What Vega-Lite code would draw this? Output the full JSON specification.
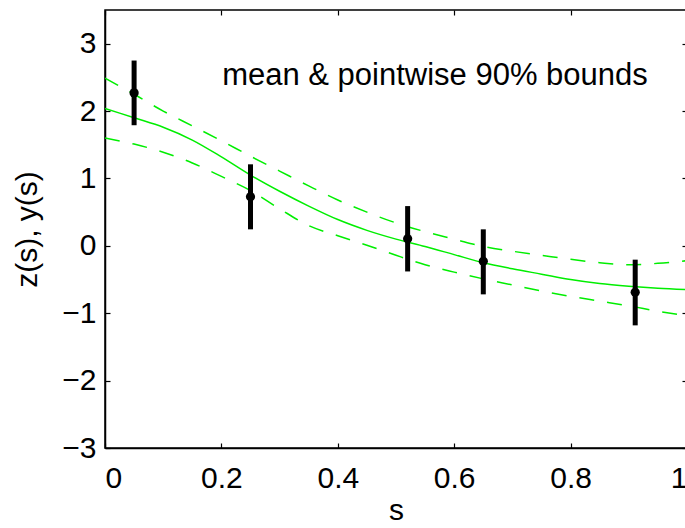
{
  "$schema": "https://vega.github.io/schema/vega-lite/v6.json",
  "width": 582,
  "height": 438,
  "autosize": {"type": "none"},
  "padding": {"left": 105, "top": 10, "right": -2, "bottom": 80},
  "background": "white",
  "config": {
    "font": "Liberation Sans",
    "view": {"stroke": "black", "strokeWidth": 1.5},
    "axis": {
      "domainColor": "black", "domainWidth": 1.5, "tickColor": "black", "tickWidth": 1.2,
      "tickSize": -5, "grid": false, "labelFont": "Liberation Sans", "labelFontSize": 30,
      "labelColor": "black", "titleFont": "Liberation Sans", "titleFontSize": 30,
      "titleFontWeight": "normal", "titleColor": "black"
    }
  },
  "datasets": {
    "curve": [
      {"s": 0.00, "mean": 2.04, "hi": 2.49, "lo": 1.60},
      {"s": 0.05, "mean": 1.90, "hi": 2.25, "lo": 1.51},
      {"s": 0.10, "mean": 1.76, "hi": 2.00, "lo": 1.39},
      {"s": 0.15, "mean": 1.57, "hi": 1.78, "lo": 1.23},
      {"s": 0.20, "mean": 1.32, "hi": 1.56, "lo": 1.03},
      {"s": 0.25, "mean": 1.05, "hi": 1.33, "lo": 0.82},
      {"s": 0.30, "mean": 0.81, "hi": 1.11, "lo": 0.55},
      {"s": 0.35, "mean": 0.59, "hi": 0.89, "lo": 0.30},
      {"s": 0.40, "mean": 0.39, "hi": 0.68, "lo": 0.15},
      {"s": 0.45, "mean": 0.23, "hi": 0.50, "lo": 0.01},
      {"s": 0.50, "mean": 0.10, "hi": 0.34, "lo": -0.14},
      {"s": 0.55, "mean": -0.01, "hi": 0.21, "lo": -0.28},
      {"s": 0.60, "mean": -0.13, "hi": 0.10, "lo": -0.39},
      {"s": 0.65, "mean": -0.25, "hi": -0.01, "lo": -0.49},
      {"s": 0.70, "mean": -0.34, "hi": -0.08, "lo": -0.58},
      {"s": 0.75, "mean": -0.42, "hi": -0.14, "lo": -0.67},
      {"s": 0.80, "mean": -0.50, "hi": -0.20, "lo": -0.75},
      {"s": 0.85, "mean": -0.56, "hi": -0.25, "lo": -0.82},
      {"s": 0.90, "mean": -0.60, "hi": -0.28, "lo": -0.89},
      {"s": 0.95, "mean": -0.63, "hi": -0.26, "lo": -0.97},
      {"s": 1.00, "mean": -0.65, "hi": -0.22, "lo": -1.04}
    ],
    "obs": [
      {"s": 0.05, "y": 2.27, "lo": 1.79, "hi": 2.75},
      {"s": 0.25, "y": 0.73, "lo": 0.245, "hi": 1.21},
      {"s": 0.52, "y": 0.107, "lo": -0.38, "hi": 0.59},
      {"s": 0.65, "y": -0.23, "lo": -0.72, "hi": 0.245},
      {"s": 0.911, "y": -0.69, "lo": -1.18, "hi": -0.205}
    ],
    "note": [{"s": 0.567, "v": 2.52, "label": "mean & pointwise 90% bounds"}]
  },
  "layer": [
    {
      "data": {"name": "curve"},
      "mark": {"type": "line", "color": "#00ee00", "strokeWidth": 1.5, "interpolate": "monotone", "clip": true},
      "encoding": {
        "x": {"field": "s", "type": "quantitative", "scale": {"domain": [0, 1], "nice": false},
              "axis": {"orient": "bottom", "title": "s", "values": [0, 0.2, 0.4, 0.6, 0.8, 1], "format": "~g", "labelPadding": 20, "titlePadding": 2}},
        "y": {"field": "mean", "type": "quantitative", "scale": {"domain": [-3, 3.5], "nice": false},
              "axis": {"orient": "left", "title": "z(s), y(s)", "values": [-3, -2, -1, 0, 1, 2, 3], "format": "d", "labelPadding": 14, "titlePadding": 19}}
      }
    },
    {
      "data": {"name": "curve"},
      "mark": {"type": "line", "color": "#00ee00", "strokeWidth": 1.5, "strokeDash": [15, 13], "interpolate": "monotone", "clip": true},
      "encoding": {
        "x": {"field": "s", "type": "quantitative", "axis": null},
        "y": {"field": "hi", "type": "quantitative", "axis": null}
      }
    },
    {
      "data": {"name": "curve"},
      "mark": {"type": "line", "color": "#00ee00", "strokeWidth": 1.5, "strokeDash": [15, 13], "interpolate": "monotone", "clip": true},
      "encoding": {
        "x": {"field": "s", "type": "quantitative", "axis": null},
        "y": {"field": "lo", "type": "quantitative", "axis": null}
      }
    },
    {
      "data": {"name": "obs"},
      "mark": {"type": "rule", "color": "black", "strokeWidth": 5},
      "encoding": {
        "x": {"field": "s", "type": "quantitative", "axis": null},
        "y": {"field": "lo", "type": "quantitative", "axis": null},
        "y2": {"field": "hi"}
      }
    },
    {
      "data": {"name": "obs"},
      "mark": {"type": "point", "filled": true, "color": "black", "opacity": 1, "size": 85},
      "encoding": {
        "x": {"field": "s", "type": "quantitative", "axis": null},
        "y": {"field": "y", "type": "quantitative", "axis": null}
      }
    },
    {
      "data": {"name": "note"},
      "mark": {"type": "text", "fontSize": 31, "font": "Liberation Sans", "color": "black", "align": "center", "baseline": "middle"},
      "encoding": {
        "x": {"field": "s", "type": "quantitative", "axis": null},
        "y": {"field": "v", "type": "quantitative", "axis": null},
        "text": {"field": "label"}
      }
    },
    {
      "data": {"name": "obs"},
      "mark": {"type": "point", "opacity": 0},
      "encoding": {
        "x": {"field": "s", "type": "quantitative",
              "axis": {"orient": "top", "title": null, "labels": false, "domain": false, "values": [0, 0.2, 0.4, 0.6, 0.8, 1]}},
        "y": {"field": "y", "type": "quantitative",
              "axis": {"orient": "right", "title": null, "labels": false, "domain": false, "values": [-3, -2, -1, 0, 1, 2, 3]}}
      }
    }
  ],
  "resolve": {"axis": {"x": "independent", "y": "independent"}}
}
